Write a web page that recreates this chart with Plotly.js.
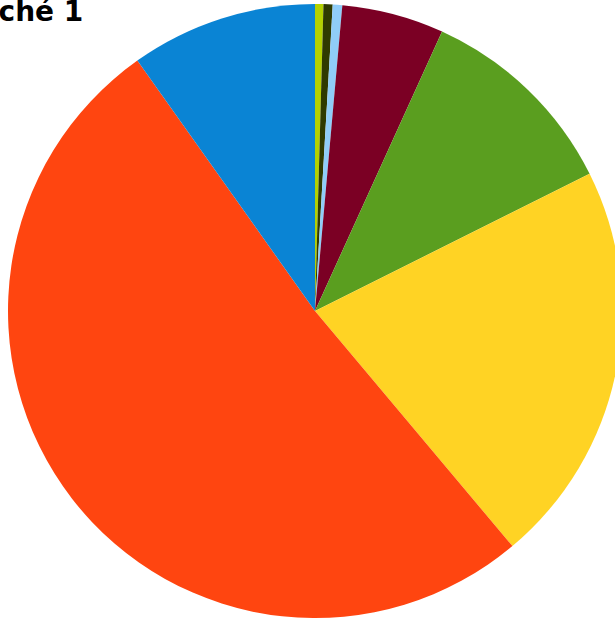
<!DOCTYPE html>
<html>
<head>
<meta charset="utf-8">
<script src="https://cdn.plot.ly/plotly-3.0.1.min.js"></script>
<style>
html, body { margin: 0; padding: 0; overflow: hidden; background: #fff; }
#chart { width: 630px; height: 622px; }
</style>
</head>
<body>
<div id="chart"></div>
<script>
const titleText = "Marché 1";
const categories = ["Série A", "Série B", "Série C", "Série D", "Série E", "Série F", "Série G", "Série H"];
const values = [0.44, 0.48, 0.50, 5.37, 10.83, 21.26, 51.29, 9.82];
const colors = ["#b4d100", "#2f3a00", "#90cdf8", "#7b0024", "#5a9e1f", "#ffd324", "#ff4510", "#0a84d4"];

const trace = {
  type: "pie",
  labels: categories,
  values: values,
  marker: { colors: colors, line: { width: 0 } },
  sort: false,
  direction: "clockwise",
  rotation: 0,
  textinfo: "none",
  hoverinfo: "label+percent"
};

const layout = {
  width: 630,
  height: 622,
  margin: { l: 8, r: 8, t: 4, b: 4, pad: 0 },
  showlegend: false,
  paper_bgcolor: "#ffffff",
  annotations: [{
    text: "<b>" + titleText + "</b>",
    xref: "paper", yref: "paper",
    x: (85 - 8) / 614, xanchor: "right",
    y: 1 - (11.5 - 4) / 614, yanchor: "middle",
    showarrow: false,
    font: { family: "DejaVu Sans, sans-serif", size: 28, color: "#000000" }
  }]
};

Plotly.newPlot("chart", [trace], layout, { displayModeBar: false, staticPlot: true });
</script>
</body>
</html>
